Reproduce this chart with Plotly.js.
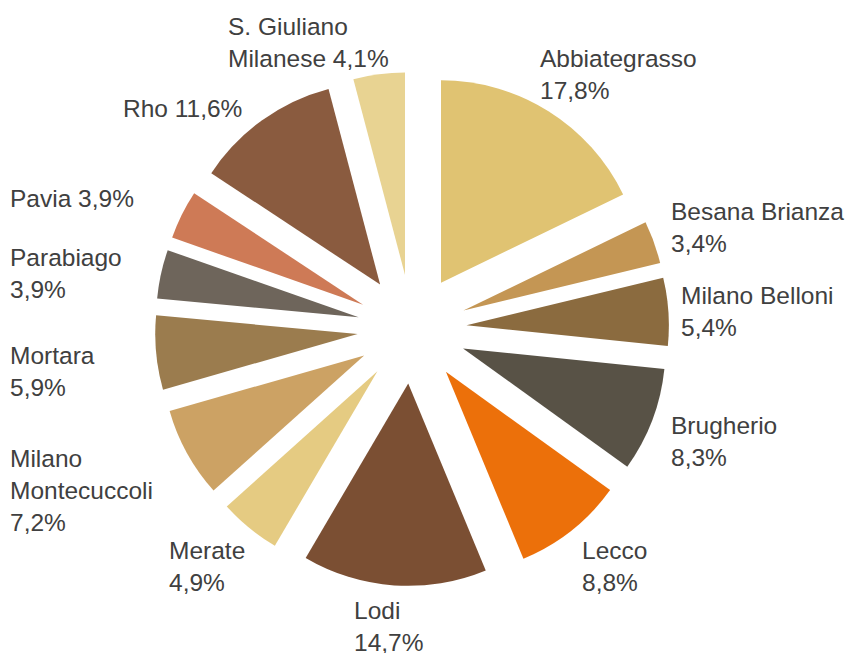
<!DOCTYPE html>
<html>
<head>
<meta charset="utf-8">
<script src="https://cdn.plot.ly/plotly-3.0.1.min.js"></script>
<style>html,body{margin:0;padding:0;background:#fff;}#chart{width:846px;height:653px;}</style>
</head>
<body>
<div id="chart"></div>
<script>
const labels = ["Abbiategrasso", "Besana Brianza", "Milano Belloni", "Brugherio", "Lecco", "Lodi", "Merate", "Milano Montecuccoli", "Mortara", "Parabiago", "Pavia", "Rho", "S. Giuliano Milanese"];
const labelLines = ["Abbiategrasso<br>", "Besana Brianza<br>", "Milano Belloni<br>", "Brugherio<br>", "Lecco<br>", "Lodi<br>", "Merate<br>", "Milano<br>Montecuccoli<br>", "Mortara<br>", "Parabiago<br>", "Pavia ", "Rho ", "S. Giuliano<br>Milanese "];
const values = [17.8, 3.4, 5.4, 8.3, 8.8, 14.7, 4.9, 7.2, 5.9, 3.9, 3.9, 11.6, 4.1];
const colors = ["#E0C372", "#C49654", "#8B6B3F", "#585246", "#EC700A", "#7B4F33", "#E5CB82", "#CCA264", "#9B7C4E", "#6E655B", "#CE7A56", "#8A5B3F", "#E8D392"];

// label anchor (left edge, first-line baseline) in page pixels — layout only
const labelX = [541, 672, 682, 672, 583, 355, 170, 11, 11, 11, 11, 124, 229];
const labelBase = [66, 219, 303, 433, 558, 618, 558, 466, 363, 265, 206, 116, 34];

const W = 846, H = 653;
const M = { l: 155, r: 177, t: 72, b: 67 };
const pw = W - M.l - M.r, ph = H - M.t - M.b;
const FS = 24.5;

const fmt = v => v.toFixed(1).replace(".", ",") + "%";

const annotations = labels.map((l, i) => ({
  xref: "paper", yref: "paper",
  x: (labelX[i] - 3 - M.l) / pw,
  y: 1 - (labelBase[i] - 23 - M.t) / ph,
  xanchor: "left", yanchor: "top", align: "left",
  showarrow: false,
  text: labelLines[i] + fmt(values[i]),
  font: { family: "'Liberation Sans', Arial, sans-serif", size: FS, color: "#404040" }
}));

const trace = {
  type: "pie",
  labels: labels,
  values: values,
  textinfo: "none",
  sort: false,
  direction: "clockwise",
  rotation: 0,
  pull: values.map(() => 0.27),
  marker: { colors: colors, line: { width: 0 } },
  hoverinfo: "label+percent",
  showlegend: false
};

const layout = {
  width: W,
  height: H,
  margin: M,
  paper_bgcolor: "#ffffff",
  showlegend: false,
  annotations: annotations
};

Plotly.newPlot("chart", [trace], layout, { staticPlot: true });
</script>
</body>
</html>
